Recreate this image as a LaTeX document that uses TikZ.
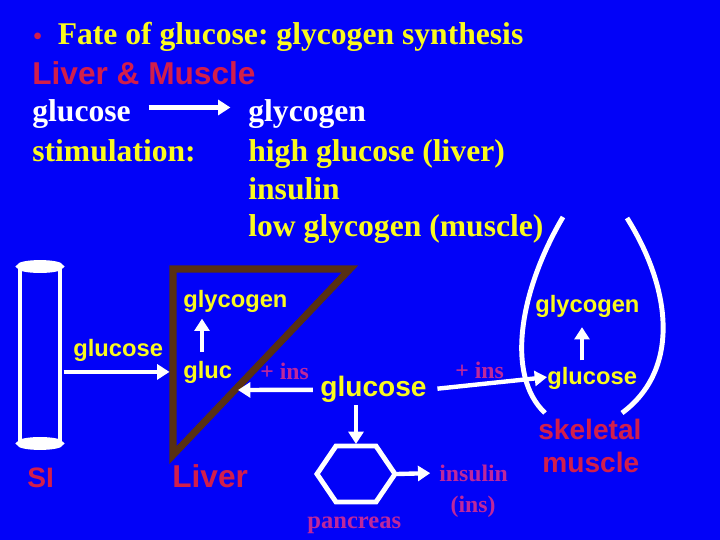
\documentclass[tikz,border=0pt]{standalone}
\usepackage{fontspec}
\setmainfont{Liberation Serif}
\setsansfont{Liberation Sans}
\usepackage{xcolor}
\usepackage{tikz}
\usetikzlibrary{arrows.meta,calc}
\definecolor{bgb}{RGB}{2,2,248}
\definecolor{ylw}{RGB}{250,250,30}
\definecolor{crim}{RGB}{210,30,75}
\definecolor{mag}{RGB}{190,40,155}
\definecolor{brn}{RGB}{88,48,18}
\tikzset{
  hd/.style ={anchor=base west,inner sep=0pt,font=\bfseries\fontsize{18}{21}\selectfont},
  lb/.style ={anchor=base west,inner sep=0pt,text=ylw,font=\sffamily\bfseries\fontsize{13.5}{16}\selectfont},
  big/.style={anchor=base west,inner sep=0pt,text=ylw,font=\sffamily\bfseries\fontsize{16}{19}\selectfont},
  org/.style={anchor=base west,inner sep=0pt,text=crim,font=\sffamily\bfseries\fontsize{16}{19}\selectfont},
  hrm/.style={anchor=base west,inner sep=0pt,text=mag,font=\bfseries\fontsize{13.5}{16}\selectfont},
  wl/.style ={white,line width=2.8pt},
  ar/.style ={white,line width=2.5pt,-{Triangle[length=7pt,width=8.5pt]}},
}

\begin{document}
\frenchspacing
\begin{tikzpicture}[x=0.02cm,y=-0.02cm]
  \useasboundingbox (0,0) rectangle (720,540);
  \fill[bgb] (0,0) rectangle (720,540);
  % heading lines
  \node[hd] (ttl) at (33,45) {\textcolor{crim}{\fontsize{14}{14}\selectfont\textbullet}\hspace{9pt}\textcolor{ylw}{Fate of glucose: glycogen synthesis}};
  \node[org,font=\sffamily\bfseries\fontsize{18}{21}\selectfont] (lm) at (32,85) {Liver \& Muscle};
  \node[hd,text=white] (g0) at (32,122) {glucose};
  \node[hd,text=white] (gy0) at (248,122) {glycogen};
  \draw[ar,shorten <=10pt,shorten >=10pt] ([yshift=4pt]g0.east) -- ([yshift=4pt]gy0.west);
  \node[hd,text=ylw] (st) at (32,162) {stimulation:};
  \node[hd,text=ylw] (s1) at (248,162) {high glucose (liver)};
  \node[hd,text=ylw] (s2) at (248,200) {insulin};
  \node[hd,text=ylw] (s3) at (248,237) {low glycogen (muscle)};
  % small intestine tube
  \node[draw=white,line width=2.8pt,outer sep=0pt,inner sep=0pt,minimum width=0.8cm,minimum height=3.54cm] (si) at (40,355) {};
  \draw[wl,fill=white] (si.north) ellipse [x radius=0.42cm,y radius=0.08cm];
  \draw[wl,fill=white] (si.south) ellipse [x radius=0.42cm,y radius=0.08cm];
  \node[org] (sil) at (27,487) {SI};
  % liver
  \coordinate (lA) at (173,269);
  \coordinate (lB) at (350,269);
  \coordinate (lC) at (173,455);
  \coordinate (lH) at (238,390);
  \coordinate (lx) at (202,0);
  \draw[brn,line width=4pt,line join=miter] (lA) -- (lB) -- (lC) -- cycle;
  \node[org,font=\sffamily\bfseries\fontsize{18}{21}\selectfont] (liv) at (172,487) {Liver};
  \node[lb] (lgy) at (183,308) {glycogen};
  \node[lb] (lgl) at (183,378) {gluc};
  \draw[ar,shorten <=5pt,shorten >=3pt] (lgl.north -| lx) -- (lgy.south -| lx);
  \node[lb] (sig) at (73,357) {glucose};
  \draw[ar,shorten <=2pt,shorten >=2pt] (si.east |- lgl.west) -- (lA |- lgl.west);
  \node[hrm] (pl) at (260,379) {+ ins};
  % blood glucose and pancreas
  \node[big] (gm) at (320,397) {glucose};
  \draw[ar,shorten <=4pt] (gm.west) -- (lH);
  \coordinate (pc) at (356,474);
  \coordinate (pcN) at (356,444);
  \coordinate (pcE) at (397,474);
  \draw[wl,line join=miter] (pc) ++(-39,0) -- ++(19,-28) -- ++(40,0) -- ++(19,28) -- ++(-19,28) -- ++(-40,0) -- cycle;
  \draw[ar,shorten <=1pt] (gm.south -| pcN) -- (pcN);
  \node[hrm,font=\bfseries\fontsize{14}{16}\selectfont] (pan) at (307,528) {pancreas};
  \node[hrm] (ins) at (439,481) {insulin};
  \node[hrm,anchor=base] (ins2) at (473,512) {(ins)};
  \draw[ar,shorten >=5pt] (pcE) -- (ins.west);
  % skeletal muscle
  \draw[wl] (563,217) .. controls (520,290) and (505,375) .. (545,413);
  \draw[wl] (627,218) .. controls (672,290) and (680,370) .. (622,413);
  \coordinate (mx) at (582,0);
  \node[lb] (mgy) at (535,313) {glycogen};
  \node[lb] (mgu) at (547,385) {glucose};
  \draw[ar,shorten <=4pt,shorten >=5pt] (mgu.north -| mx) -- (mgy.south -| mx);
  \node[hrm] (pr) at (455,378) {+ ins};
  \draw[ar,shorten <=6pt] (gm.east) -- ([yshift=1pt]mgu.west);
  \node[org] (sk) at (538,439) {skeletal};
  \node[org] (mu) at (542,472) {muscle};
\end{tikzpicture}
\end{document}
